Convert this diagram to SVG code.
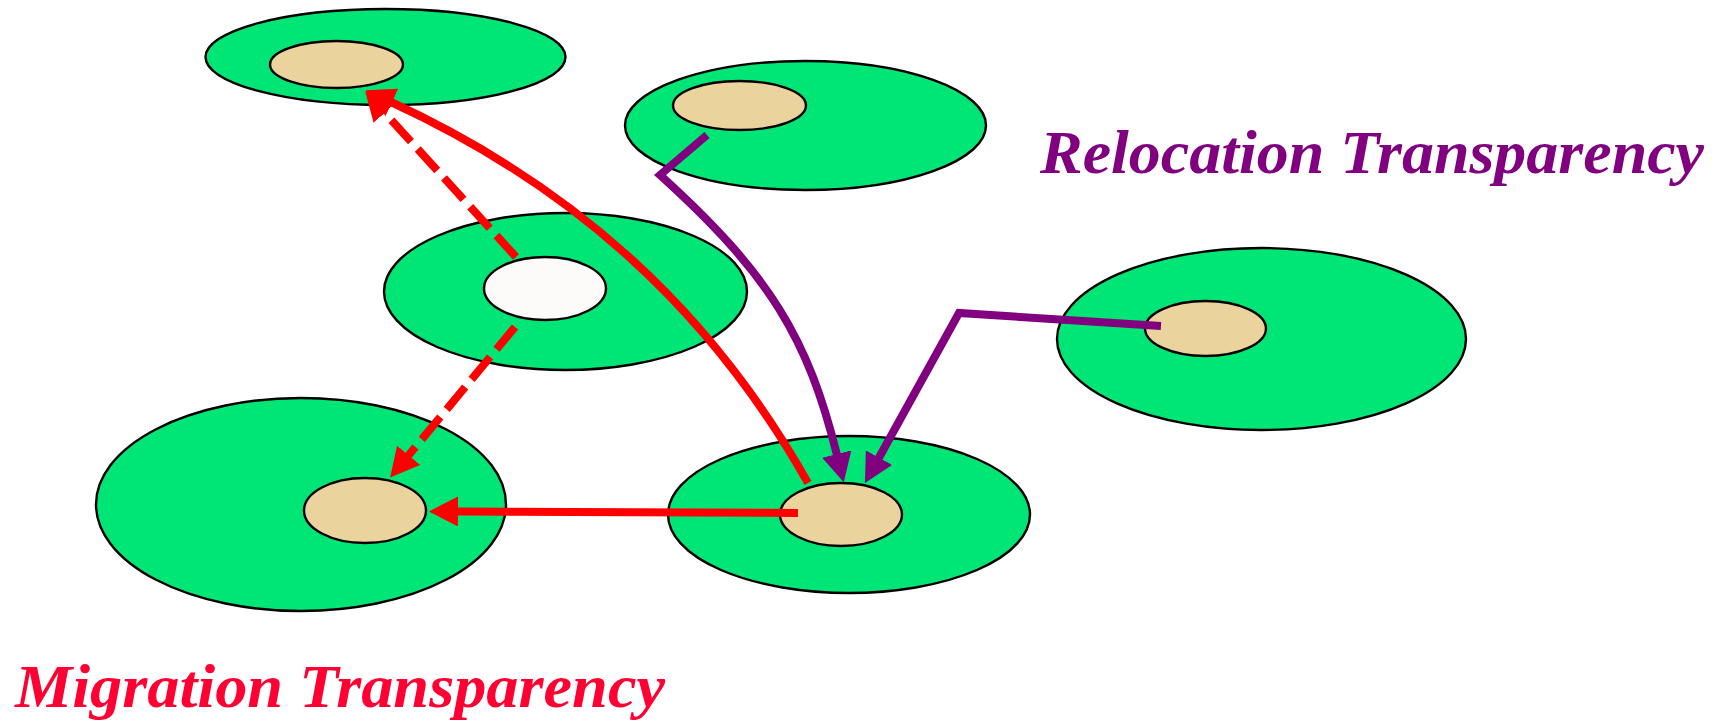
<svg xmlns="http://www.w3.org/2000/svg" width="1724" height="722" viewBox="0 0 1724 722">
  <style>
    .host { fill: #00E676; stroke: #000; stroke-width: 2.4; }
    .obj { fill: #EBD39D; stroke: #000; stroke-width: 2.4; }
    .ghost { fill: #FDFBF9; stroke: #000; stroke-width: 2.4; }
    .red { fill: none; stroke: #FF0000; stroke-width: 8; stroke-linejoin: round; }
    .dash { stroke-dasharray: 29 10; }
    .purple { fill: none; stroke: #800080; stroke-width: 8; stroke-linejoin: miter; }
    .label { font-family: "Liberation Serif", "Times New Roman", serif; font-weight: bold; font-style: italic; font-size: 62px; }
  </style>
  <defs>
    <marker id="headRed" markerUnits="userSpaceOnUse" viewBox="0 0 29 30" refX="1" refY="15" markerWidth="29" markerHeight="30" orient="auto">
      <path d="M0,0 L29,15 L0,30 z" fill="#FF0000"/>
    </marker>
    <marker id="headPurple" markerUnits="userSpaceOnUse" viewBox="0 0 29 30" refX="1" refY="15" markerWidth="29" markerHeight="30" orient="auto">
      <path d="M0,0 L29,15 L0,30 z" fill="#800080"/>
    </marker>
  </defs>

  <rect width="1724" height="722" fill="#FFFFFF"/>

  <!-- hosts with the objects they carry -->
  <g id="host-top-left">
    <ellipse class="host" cx="385.5" cy="57" rx="180" ry="48"/>
    <ellipse class="obj" cx="336.5" cy="64.5" rx="66.5" ry="23.5"/>
  </g>
  <g id="host-top-middle">
    <ellipse class="host" cx="805.5" cy="125.5" rx="180.5" ry="64.5"/>
    <ellipse class="obj" cx="739.5" cy="105.5" rx="66.5" ry="24.5"/>
  </g>
  <g id="host-middle">
    <ellipse class="host" cx="565.5" cy="291.5" rx="181.5" ry="78.5"/>
    <ellipse class="ghost" cx="545" cy="288.5" rx="61" ry="31.5"/>
  </g>
  <g id="host-bottom-left">
    <ellipse class="host" cx="301" cy="504.5" rx="205" ry="106.5"/>
    <ellipse class="obj" cx="365" cy="510.5" rx="61" ry="32.5"/>
  </g>
  <g id="host-bottom-middle">
    <ellipse class="host" cx="849" cy="514.5" rx="181" ry="78.5"/>
    <ellipse class="obj" cx="841" cy="514.5" rx="61" ry="31.5"/>
  </g>
  <g id="host-right">
    <ellipse class="host" cx="1261.5" cy="339" rx="204.5" ry="91"/>
    <ellipse class="obj" cx="1205.5" cy="328.5" rx="60.5" ry="27.5"/>
  </g>

  <!-- connectors -->
  <g id="connectors">
    <!-- migration (red) -->
    <line class="red dash" x1="516" y1="257" x2="384" y2="112" marker-end="url(#headRed)"/>
    <line class="red dash" x1="515" y1="327" x2="408" y2="456" marker-end="url(#headRed)"/>
    <path class="red" d="M808,483 C710,309 573,186 391,102" marker-end="url(#headRed)"/>
    <line class="red" x1="798" y1="513" x2="457" y2="511.5" marker-end="url(#headRed)"/>
    <!-- relocation (purple) -->
    <path class="purple" d="M707,135 L660,175 C771,275.5 808,338.6 837,455" marker-end="url(#headPurple)"/>
    <polyline class="purple" points="1161,326 959,313 878.5,458.5" marker-end="url(#headPurple)"/>
  </g>

  <!-- labels -->
  <text class="label" x="1040" y="173" fill="#800080" textLength="664" lengthAdjust="spacingAndGlyphs">Relocation Transparency</text>
  <text class="label" x="15" y="707" fill="#FF0033" textLength="650" lengthAdjust="spacingAndGlyphs">Migration Transparency</text>
</svg>
